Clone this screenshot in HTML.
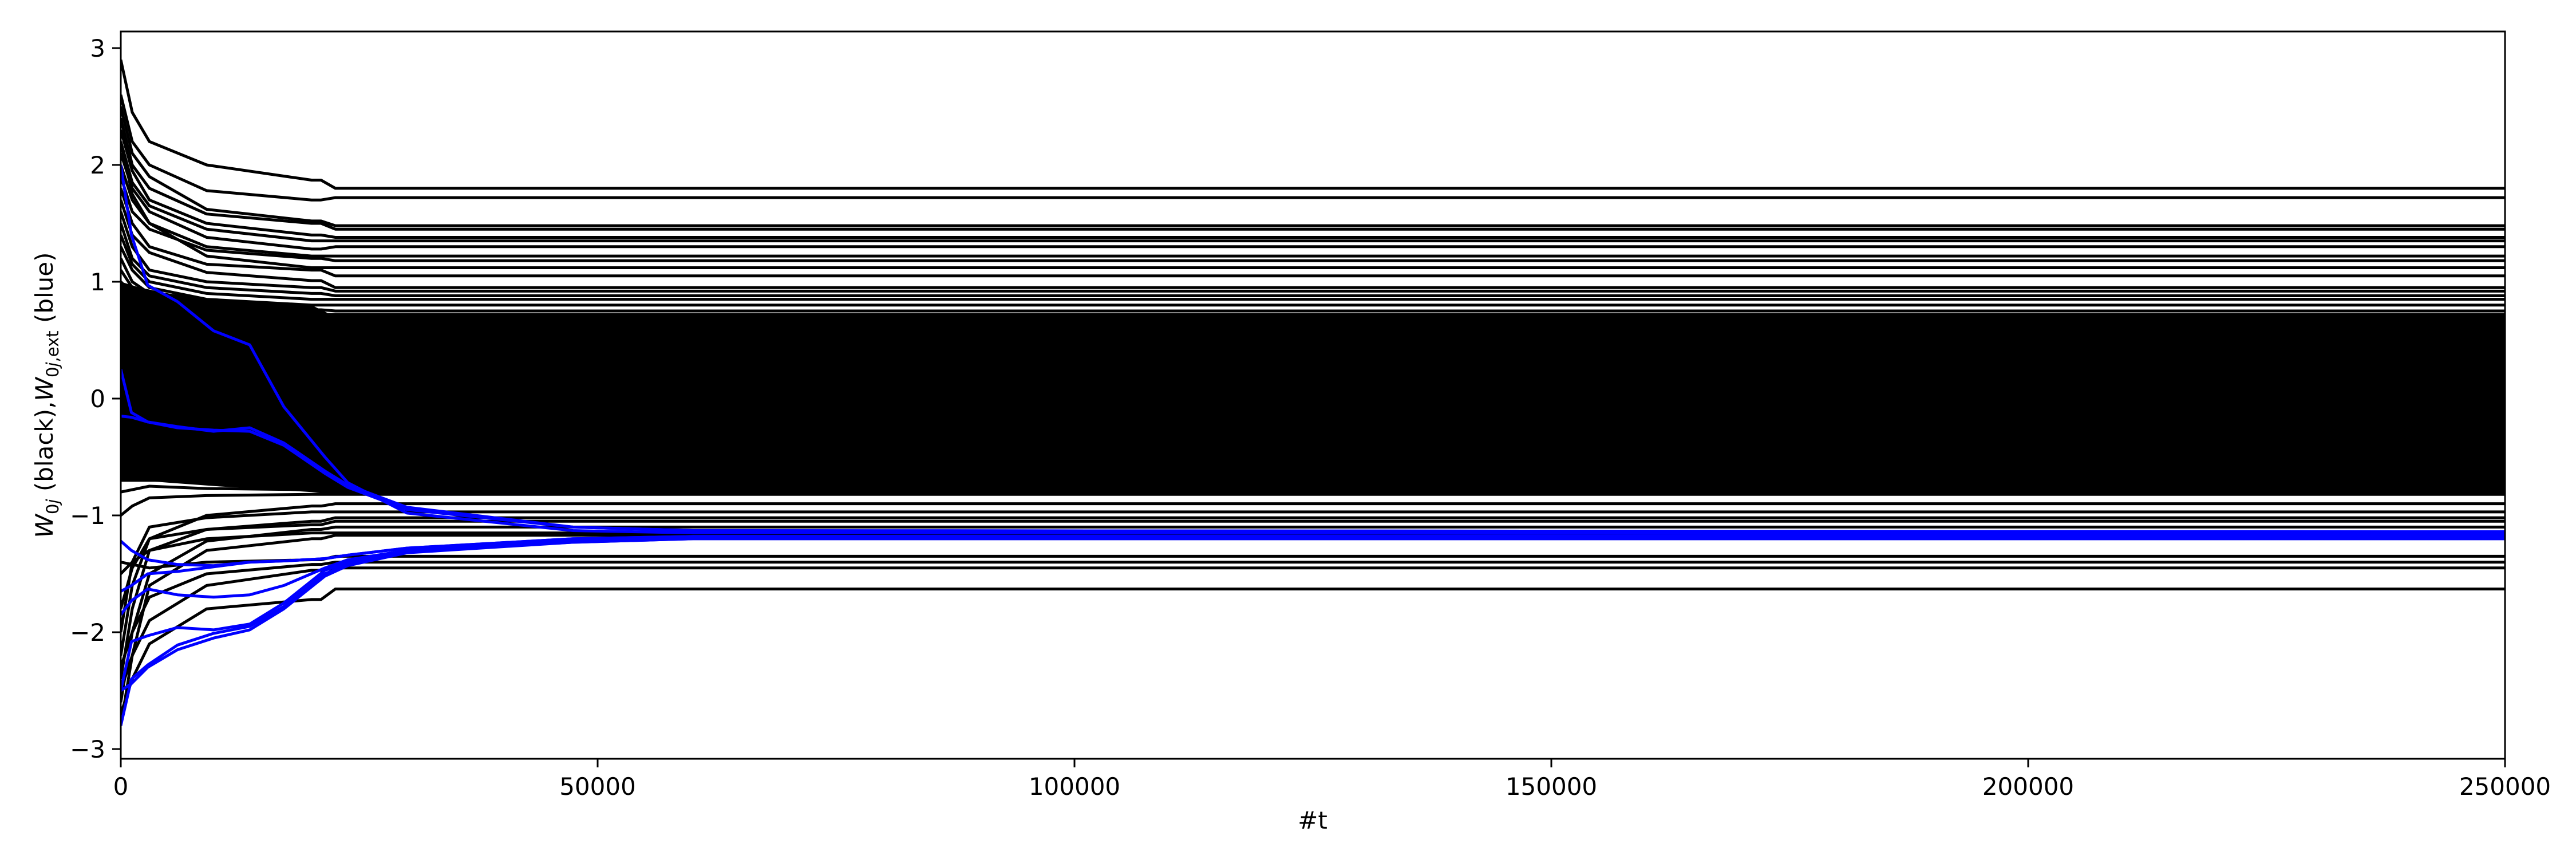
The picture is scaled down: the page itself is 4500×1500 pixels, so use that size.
<!DOCTYPE html>
<html><head><meta charset="utf-8">
<style>
html,body{margin:0;padding:0;background:#fff;}
svg{display:block;}
text{font-family:"DejaVu Sans","Liberation Sans",sans-serif;fill:#000;}
</style></head>
<body>
<svg id="chart" width="4500" height="1500" viewBox="0 0 4500 1500" xmlns="http://www.w3.org/2000/svg">
<rect x="0" y="0" width="4500" height="1500" fill="#fff"/>
<defs><clipPath id="plotclip"><rect x="211" y="55" width="4165" height="1270"/></clipPath></defs>
<g id="plot" clip-path="url(#plotclip)"></g>
<g id="axes"></g>
<text x="2293" y="1447" font-size="42" text-anchor="middle">#t</text>
<text transform="translate(92,690) rotate(-90)" font-size="42" text-anchor="middle"><tspan font-style="italic">W</tspan><tspan font-size="29" dy="10">0<tspan font-style="italic">j</tspan></tspan><tspan dy="-10"> (black),</tspan><tspan font-style="italic">W</tspan><tspan font-size="29" dy="10">0<tspan font-style="italic">j</tspan>,ext</tspan><tspan dy="-10"> (blue)</tspan></text>
</svg>
<script>
// ---- data ----
const xTicks = [0, 50000, 100000, 150000, 200000, 250000];
const yTicks = [3, 2, 1, 0, -1, -2, -3];
// black trajectories: value at t=0, 1200, 3000, 9000, 20000, and final
const blackStart = [2.9,2.6,2.5,2.4,2.3,2.2,2.1,2.0,1.9,2.2,1.8,1.7,1.6,1.5,1.4,1.3,1.2,
  1.1,0.9,0.6,0.3,0.0,-0.3,-0.6,0.8,0.5,0.2,-0.1,-0.4,1.0,0.7,0.4,0.1,-0.2,-0.5,-0.8,0.9,0.6,-0.7,-1.0,
  -2.2,-2.0,-2.4,-1.8,-2.6,-1.5,-2.8,-1.4,-2.3,-2.5,-2.7];
const blackT1 = [2.45,2.2,2.1,2.0,1.95,1.85,1.8,1.7,1.6,1.75,1.5,1.4,1.3,1.2,1.15,1.1,1.0,
  0.95,0.8,0.58,0.3,0.05,-0.25,-0.55,0.7,0.48,0.2,-0.08,-0.38,0.9,0.65,0.38,0.08,-0.22,-0.52,-0.78,0.82,0.55,-0.7,-0.92,
  -1.6,-1.4,-1.8,-1.45,-2.0,-1.4,-2.2,-1.42,-2.0,-2.2,-2.4];
const blackEarly = [2.2,2.0,1.9,1.8,1.7,1.65,1.6,1.5,1.45,1.5,1.3,1.25,1.1,1.05,1.0,0.95,0.9,
  0.85,0.7,0.55,0.3,0.1,-0.2,-0.5,0.65,0.45,0.2,-0.05,-0.35,0.8,0.6,0.35,0.05,-0.25,-0.55,-0.75,0.75,0.5,-0.7,-0.85,
  -1.2,-1.1,-1.3,-1.2,-1.5,-1.3,-1.6,-1.45,-1.7,-1.9,-2.1];
const blackT9 = [2.0,1.78,1.62,1.58,1.5,1.45,1.38,1.3,1.27,1.22,1.15,1.08,1.0,0.95,0.9,0.85,0.8,
  0.76,0.67,0.52,0.3,0.1,-0.17,-0.47,0.62,0.42,0.2,-0.05,-0.32,0.74,0.57,0.35,0.02,-0.25,-0.52,-0.77,0.72,0.47,-0.7,-0.83,
  -1.0,-1.02,-1.12,-1.12,-1.22,-1.2,-1.3,-1.4,-1.5,-1.6,-1.8];
const blackMid = [1.87,1.70,1.52,1.50,1.40,1.35,1.28,1.22,1.20,1.12,1.10,1.01,0.95,0.90,0.85,0.80,0.76,
  0.72,0.65,0.5,0.3,0.1,-0.15,-0.45,0.6,0.4,0.2,-0.05,-0.3,0.7,0.55,0.35,0.0,-0.25,-0.5,-0.78,0.7,0.45,-0.7,-0.82,
  -0.92,-0.97,-1.05,-1.08,-1.12,-1.15,-1.20,-1.38,-1.42,-1.47,-1.72];
const blackFinal = [1.80,1.72,1.48,1.45,1.38,1.35,1.30,1.22,1.18,1.12,1.05,0.95,0.92,0.88,0.85,0.80,0.75,
  0.72,0.65,0.5,0.3,0.1,-0.15,-0.45,0.6,0.4,0.2,-0.05,-0.3,0.7,0.55,0.35,0.0,-0.25,-0.5,-0.78,0.68,0.45,-0.7,-0.82,
  -0.90,-0.97,-1.02,-1.05,-1.10,-1.15,-1.17,-1.35,-1.40,-1.45,-1.63];
const blackTimes = [0, 1200, 3000, 9000, 20000, 21000, 22500, 250000];
// dense black band
const bandTimes = [0, 2000, 5000, 10000, 20000, 22000, 250000];
const bandTop = [1.0, 0.95, 0.9, 0.85, 0.8, 0.72, 0.72];
const bandBottom = [-0.7, -0.7, -0.72, -0.75, -0.8, -0.82, -0.82];
// blue trajectories
const blueTimes = [0,1120,2830,5940,9730,13520,17100,21400,23800,30000,47400,60000,250000];
const blue1 = [2.0,1.40,0.97,0.83,0.58,0.46,-0.07,-0.5,-0.72,-0.98,-1.13,-1.15,-1.15];
const blue2 = [0.25,-0.12,-0.2,-0.24,-0.28,-0.25,-0.38,-0.62,-0.74,-0.93,-1.1,-1.13,-1.14];
const blue3 = [-0.15,-0.16,-0.2,-0.25,-0.27,-0.28,-0.4,-0.64,-0.76,-0.95,-1.1,-1.13,-1.14];
const blue4 = [-1.22,-1.3,-1.38,-1.42,-1.43,-1.40,-1.39,-1.37,-1.34,-1.28,-1.2,-1.18,-1.17];
const blue5 = [-1.65,-1.6,-1.5,-1.48,-1.44,-1.40,-1.39,-1.37,-1.34,-1.28,-1.2,-1.18,-1.17];
const blue6 = [-1.85,-1.73,-1.63,-1.68,-1.70,-1.68,-1.6,-1.45,-1.38,-1.3,-1.21,-1.19,-1.18];
const blue7 = [-2.5,-2.08,-2.03,-1.96,-1.98,-1.93,-1.75,-1.47,-1.4,-1.3,-1.22,-1.19,-1.19];
const blue8 = [-2.8,-2.4,-2.28,-2.11,-2.01,-1.95,-1.78,-1.5,-1.42,-1.31,-1.23,-1.2,-1.2];
const blue9 = [-2.5,-2.44,-2.3,-2.15,-2.05,-1.98,-1.8,-1.52,-1.43,-1.32,-1.23,-1.2,-1.2];
const blueSeries = [blue1,blue2,blue3,blue4,blue5,blue6,blue7,blue8,blue9];

// ---- axes ----
const X0=211, X1=4376, Y3=84, Ym3=1308;
const xMax=250000;
function sx(t){return X0+(t/xMax)*(X1-X0);}
function sy(v){return Y3+(3-v)*(Ym3-Y3)/6;}
const NS='http://www.w3.org/2000/svg';
const plot=document.getElementById('plot');
const axes=document.getElementById('axes');
function mk(tag,attrs,parent){const e=document.createElementNS(NS,tag);for(const k in attrs)e.setAttribute(k,attrs[k]);parent.appendChild(e);return e;}

// band
let bp=[];
for(let i=0;i<bandTimes.length;i++)bp.push(sx(bandTimes[i])+','+sy(bandTop[i]));
for(let i=bandTimes.length-1;i>=0;i--)bp.push(sx(bandTimes[i])+','+sy(bandBottom[i]));
const band=mk('polygon',{points:bp.join(' '),fill:'#000'},plot);



// black lines
for(let i=0;i<blackStart.length;i++){
  const vals=[blackStart[i],blackT1[i],blackEarly[i],blackT9[i],blackMid[i],blackMid[i],blackFinal[i],blackFinal[i]];
  const pts=blackTimes.map((t,k)=>sx(t)+','+sy(vals[k])).join(' ');
  const pl=mk('polyline',{points:pts,fill:'none',stroke:'#000','stroke-width':5,'stroke-linejoin':'round'},plot);
  
  
}
// blue lines
blueSeries.forEach(s=>{
  const pts=blueTimes.map((t,k)=>sx(t)+','+sy(s[k])).join(' ');
  const pl=mk('polyline',{points:pts,fill:'none',stroke:'#0000ff','stroke-width':5,'stroke-linejoin':'round'},plot);
  
  
});

// frame
const fr=mk('rect',{x:X0,y:55,width:X1-X0,height:1270,fill:'none',stroke:'#000','stroke-width':3},axes);


xTicks.forEach(t=>{
  const x=sx(t);
  const tk=mk('line',{x1:x,x2:x,y1:1325,y2:1340,stroke:'#000','stroke-width':3},axes);
  
  
  const tx=mk('text',{x:x,y:1388,'font-size':42,'text-anchor':'middle'},axes);
  tx.textContent=String(t);
  
  
});
yTicks.forEach(v=>{
  const y=sy(v);
  const tk=mk('line',{x1:196,x2:211,y1:y,y2:y,stroke:'#000','stroke-width':3},axes);
  
  
  const tx=mk('text',{x:184,y:y+15,'font-size':42,'text-anchor':'end'},axes);
  tx.textContent=v<0?'\u2212'+Math.abs(v):String(v);
  
  
});
</script>
</body></html>
